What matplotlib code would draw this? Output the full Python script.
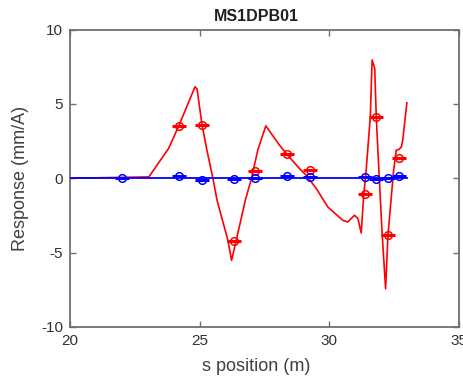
import numpy as np
import matplotlib.pyplot as plt

plt.rcParams['font.family'] = ['Liberation Sans', 'DejaVu Sans']
plt.rcParams['axes.unicode_minus'] = False

# measured response (points with error bars)
s_meas = [22.0, 24.2, 25.1, 26.33, 27.12, 28.36, 29.26, 31.37, 31.81, 32.25, 32.69]
resp_red = [np.nan, 3.5, 3.6, -4.2, 0.49, 1.62, 0.56, -1.06, 4.09, -3.84, 1.39]
resp_blue = [0.0, 0.16, -0.09, -0.02, 0.0, 0.13, 0.11, 0.1, -0.02, 0.02, 0.13]

# model curves
s_red = [20.0, 23.04, 23.8, 24.19, 24.82, 24.9, 25.09, 25.28, 25.51, 25.67, 26.09,
         26.23, 26.41, 26.76, 27.0, 27.24, 27.55, 28.08, 28.36, 28.85, 29.11, 29.5,
         29.94, 30.52, 30.71, 30.97, 31.1, 31.23, 31.32, 31.42, 31.58, 31.65, 31.75,
         31.81, 31.91, 32.04, 32.17, 32.26, 32.48, 32.58, 32.68, 32.78, 32.83, 32.99]
y_red = [0.0, 0.09, 2.0, 3.5, 6.15, 6.0, 3.6, 1.89, 0.0, -1.48, -4.18,
         -5.52, -4.18, -1.48, 0.0, 1.89, 3.52, 2.22, 1.62, 0.65, 0.2, -0.7,
         -1.93, -2.83, -2.94, -2.49, -2.7, -3.68, -1.26, 0.54, 4.13, 7.95, 7.39,
         4.13, 0.54, -3.84, -7.43, -3.84, 0.54, 1.89, 1.93, 2.11, 2.56, 5.07]
s_blue = [20.0, 33.0]
y_blue = [0.0, 0.0]

xerr = 0.27

fig = plt.figure(figsize=(4.64, 3.79), dpi=100)
ax = fig.add_axes([70 / 464, 52 / 379, 389 / 464, 297.5 / 379])

ax.plot(s_red, y_red, color='red', lw=1.2, zorder=2)
ax.errorbar(s_meas, resp_red, xerr=xerr, fmt='o', color='red',
            mfc='none', ms=5.5, mew=1.1, elinewidth=2.2, capsize=0, zorder=3)
ax.plot(s_blue, y_blue, color='blue', lw=1.3, zorder=4)
ax.errorbar(s_meas, resp_blue, xerr=xerr, fmt='o', color='blue',
            mfc='none', ms=5.5, mew=1.1, elinewidth=2.2, capsize=0, zorder=5)

ax.set_xlim(20, 35)
ax.set_ylim(-10, 10)
ax.set_xticks([20, 25, 30, 35])
ax.set_yticks([-10, -5, 0, 5, 10])

axcol = '#707070'
txtcol = '#303030'
for sp in ax.spines.values():
    sp.set_color(axcol)
    sp.set_linewidth(1.3)
ax.tick_params(direction='in', length=4, width=1.0, color=axcol, labelcolor=txtcol,
               labelsize=11, top=True, right=True, pad=5)

xc = (256 - 70) / 389
ax.set_title('MS1DPB01', fontsize=11.5, fontweight='bold', color='#202020', x=xc, pad=6)
ax.set_xlabel('s position (m)', fontsize=13, color='#404040')
ax.xaxis.set_label_coords(xc, -0.105)
ax.set_ylabel('Response (mm/A)', fontsize=13, color='#404040')
ax.yaxis.set_label_coords(-0.105, 0.5)

fig.savefig('out.png', dpi=100)
